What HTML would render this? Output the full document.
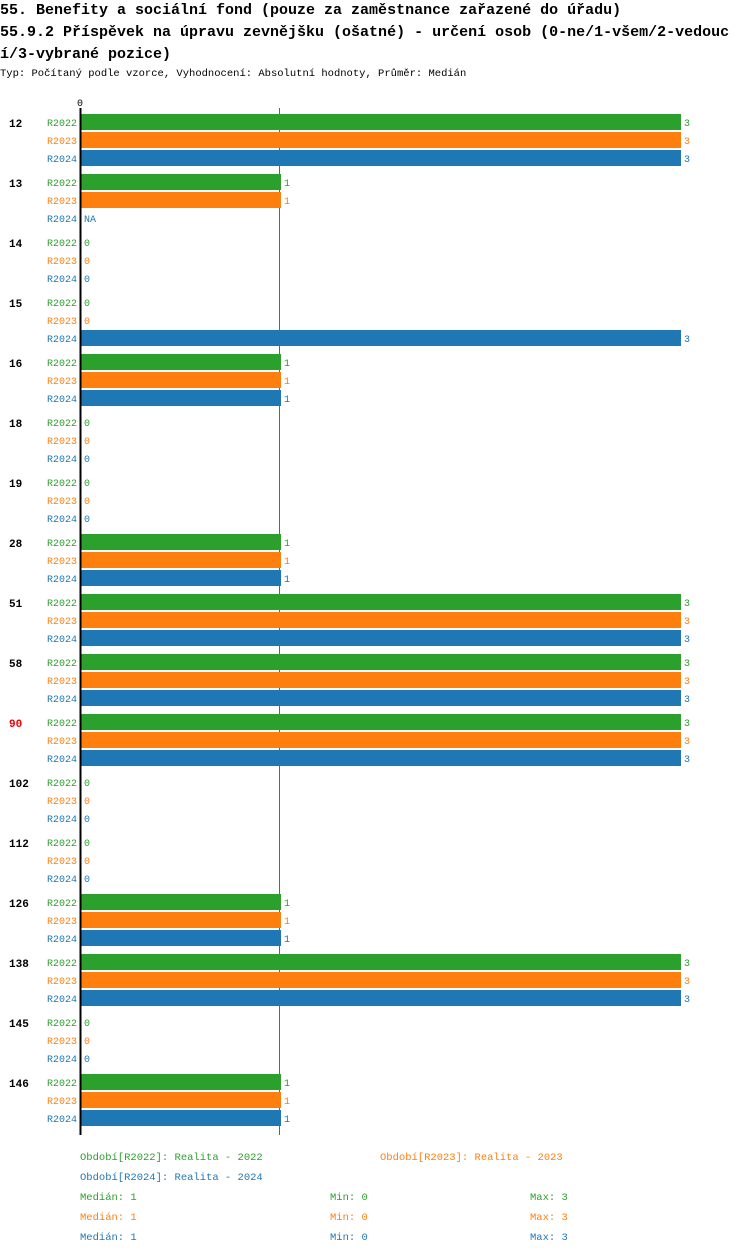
<!DOCTYPE html>
<html><head><meta charset="utf-8"><style>
body{margin:0;background:#fff;width:750px;height:1254px;overflow:hidden}
svg text{font-family:"Liberation Mono","DejaVu Sans Mono",monospace}
</style></head><body>
<svg id="c" width="750" height="1254">
<text x="0" y="14" font-size="15" font-weight="bold">55. Benefity a sociální fond (pouze za zaměstnance zařazené do úřadu)</text>
<text x="0" y="36" font-size="15" font-weight="bold">55.9.2 Příspěvek na úpravu zevnějšku (ošatné) - určení osob (0-ne/1-všem/2-vedouc</text>
<text x="0" y="58" font-size="15" font-weight="bold">í/3-vybrané pozice)</text>
<text x="0" y="76" font-size="10.5">Typ: Počítaný podle vzorce, Vyhodnocení: Absolutní hodnoty, Průměr: Medián</text>
<text x="80" y="106" font-size="10" text-anchor="middle">0</text>
<line x1="279.5" y1="108" x2="279.5" y2="1135" stroke="#1f77b4" stroke-width="1"/>
<g id="bars"></g>
<line x1="80.5" y1="108" x2="80.5" y2="1135" stroke="#000" stroke-width="2"/>
<g font-size="10.5">
<text x="80" y="1160" fill="#2ca02c">Období[R2022]: Realita - 2022</text>
<text x="380" y="1160" fill="#ff7f0e">Období[R2023]: Realita - 2023</text>
<text x="80" y="1180" fill="#1f77b4">Období[R2024]: Realita - 2024</text>
<text x="80" y="1200" fill="#2ca02c">Medián: 1</text><text x="330" y="1200" fill="#2ca02c">Min: 0</text><text x="530" y="1200" fill="#2ca02c">Max: 3</text>
<text x="80" y="1220" fill="#ff7f0e">Medián: 1</text><text x="330" y="1220" fill="#ff7f0e">Min: 0</text><text x="530" y="1220" fill="#ff7f0e">Max: 3</text>
<text x="80" y="1240" fill="#1f77b4">Medián: 1</text><text x="330" y="1240" fill="#1f77b4">Min: 0</text><text x="530" y="1240" fill="#1f77b4">Max: 3</text>
</g>
</svg>
<script>
const categories=["12","13","14","15","16","18","19","28","51","58","90","102","112","126","138","145","146"];
const seriesNames=["R2022","R2023","R2024"];
const r2022=[3,1,0,0,1,0,0,1,3,3,3,0,0,1,3,0,1];
const r2023=[3,1,0,0,1,0,0,1,3,3,3,0,0,1,3,0,1];
const r2024=[3,null,0,3,1,0,0,1,3,3,3,0,0,1,3,0,1];
const highlight="90";
const series=[r2022,r2023,r2024];
const colors=["#2ca02c","#ff7f0e","#1f77b4"];
const x=v=>81+v*200;
const yG=i=>113+i*60;
const g=document.getElementById('bars');
const NS="http://www.w3.org/2000/svg";
function mk(t,a){const e=document.createElementNS(NS,t);for(const k in a)e.setAttribute(k,a[k]);g.appendChild(e);return e;}
categories.forEach((c,i)=>{
  const t=mk('text',{x:9,y:yG(i)+14,'font-size':11,'font-weight':'bold',fill:c===highlight?'#e00':'#000'});
  t.textContent=c;
  
  
  series.forEach((s,j)=>{
    const yy=yG(i)+1+j*18;
    const lab=mk('text',{x:77,y:yy+12,'font-size':10,'text-anchor':'end',fill:colors[j]});
    lab.textContent=seriesNames[j];
    
    
    const v=s[i];
    if(v!==null&&v>0){
      const r=mk('rect',{x:x(0),y:yy,width:x(v)-x(0),height:16,fill:colors[j]});
      
      
    }
    const vt=mk('text',{x:x(v===null?0:v)+3,y:yy+12,'font-size':10,fill:colors[j]});
    vt.textContent=v===null?'NA':String(v);
    
    
  });
});
</script>
</body></html>
